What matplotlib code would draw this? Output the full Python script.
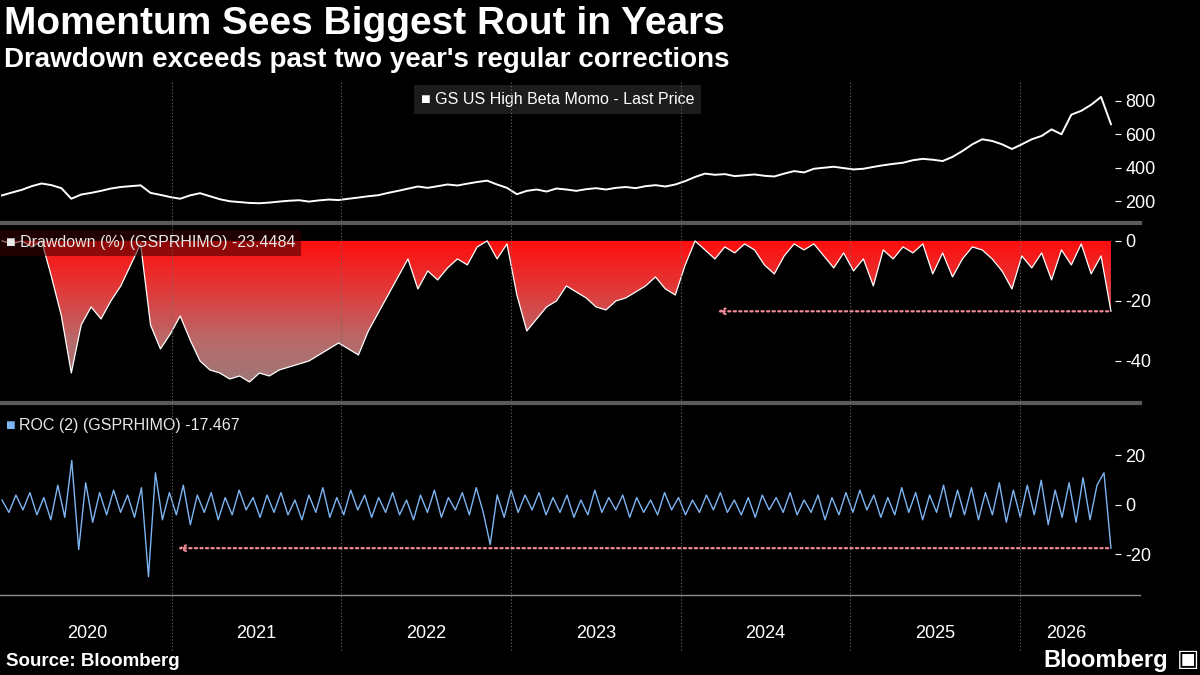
import numpy as np
import matplotlib
matplotlib.use("Agg")
import matplotlib.pyplot as plt
from matplotlib.colors import LinearSegmentedColormap
from matplotlib.lines import Line2D

title = "Momentum Sees Biggest Rout in Years"
subtitle = "Drawdown exceeds past two year's regular corrections"
source = "Source: Bloomberg"
years = ["2020", "2021", "2022", "2023", "2024", "2025", "2026"]
start_year, end_year = 2020.0, 2026.535

price = [235,252,268,290,306,296,278,215,240,250,262,276,285,290,295,250,238,225,215,235,
         248,230,212,200,195,190,188,192,198,203,206,198,205,210,207,215,222,230,236,250,
         262,275,288,280,290,300,294,305,315,323,300,280,242,262,270,258,276,270,262,272,
         278,270,280,285,278,290,296,288,300,320,345,365,358,362,350,355,360,352,348,365,
         380,372,394,400,406,398,390,394,405,415,423,430,445,453,448,440,465,500,540,570,
         560,540,512,540,570,590,629,600,717,740,776,823,660]
drawdown = [0,-1,0,-2,0,-12,-25,-44,-28,-22,-26,-20,-15,-8,-1,-28,-36,-31,-25,-33,
            -40,-43,-44,-46,-45,-47,-44,-45,-43,-42,-41,-40,-38,-36,-34,-36,-38,-30,-24,-18,
            -12,-6,-16,-10,-13,-9,-6,-8,-2,0,-6,-1,-18,-30,-26,-22,-20,-15,-17,-19,
            -22,-23,-20,-19,-17,-15,-12,-16,-18,-8,0,-3,-6,-2,-4,-1,-3,-8,-11,-5,
            -1,-3,-1,-5,-9,-4,-10,-6,-15,-3,-6,-2,-4,-1,-11,-4,-12,-6,-2,-3,
            -6,-10,-16,-5,-9,-4,-13,-3,-8,-1,-11,-5,-23.4484]
roc = [2,-3,4,-2,5,-4,3,-6,8,-5,18,-18,9,-7,5,-4,6,-3,4,-5,
       7,-29,13,-6,5,-4,8,-8,4,-3,5,-6,3,-4,6,-2,3,-5,4,-3,
       5,-4,2,-6,4,-3,7,-5,3,-4,6,-2,4,-5,3,-3,5,-4,2,-6,
       4,-3,6,-5,3,-2,5,-4,7,-3,-16,4,-5,6,-3,4,-2,5,-4,3,
       -3,4,-5,2,-4,6,-3,3,-2,4,-5,3,-3,2,-4,5,-2,3,-4,2,
       -3,4,-2,5,-3,2,-4,3,-5,4,-2,3,-3,5,-4,2,-3,4,-6,3,
       -4,5,-3,6,-2,4,-5,3,-4,7,-3,5,-6,4,-3,8,-5,6,-4,7,
       -6,5,-4,9,-7,6,-5,8,-4,10,-8,6,-5,9,-7,11,-6,8,13,-17.467]
dd_arrow_start = 2024.2
roc_arrow_start = 2021.02

plt.rcParams['font.family'] = ['Liberation Sans', 'DejaVu Sans']
plt.rcParams['axes.unicode_minus'] = False
W, H = 1200, 675
fig = plt.figure(figsize=(12, 6.75), dpi=100, facecolor='black')
x0, x1 = 0 / W, 1115 / W
xlim = (2020.0 - 2 / 170, 2020.0 + 1113 / 170 + 2 / 170)

def mk(top, bot):
    ax = fig.add_axes([x0, 1 - bot / H, x1 - x0, (bot - top) / H], facecolor='black')
    ax.set_xlim(*xlim)
    for s in ax.spines.values():
        s.set_visible(False)
    ax.yaxis.tick_right()
    ax.tick_params(axis='y', colors='white', labelsize=13, length=4, direction='out')
    ax.set_xticks([])
    return ax

# price
ax1 = mk(80, 220)
xp = np.linspace(start_year, end_year, len(price))
ax1.plot(xp, price, color='white', lw=1.4)
ax1.set_ylim(88, 924)
ax1.set_yticks([200, 400, 600, 800])
ax1.text(0.5, 0.86, "\u25A0 GS US High Beta Momo - Last Price", transform=ax1.transAxes,
         ha='center', va='center', color='white', fontsize=11.5,
         bbox=dict(facecolor='#1c1c1c', edgecolor='none', pad=5))

# drawdown
ax2 = mk(228, 400)
xd = np.linspace(start_year, end_year, len(drawdown))
ax2.set_ylim(-53, 4.3)
ax2.set_yticks([0, -20, -40])
poly = ax2.fill_between(xd, drawdown, 0, color='none')
cmap = LinearSegmentedColormap.from_list('g', ['#ff0d0d', '#e03a3a', '#b86a6a', '#9a7a7a'])
grad = np.linspace(0, 1, 256).reshape(-1, 1)
im = ax2.imshow(grad, extent=[xlim[0], xlim[1], -50, 0], aspect='auto', cmap=cmap, origin='upper', zorder=1)
path = poly.get_paths()[0]
im.set_clip_path(path, transform=ax2.transData)
ax2.plot(xd, drawdown, color='white', lw=0.9, zorder=2)
ax2.annotate('', xy=(dd_arrow_start, drawdown[-1]), xytext=(end_year, drawdown[-1]),
             arrowprops=dict(arrowstyle='->', color='#f08a98', lw=1.6, ls=(0, (1, 1.5))), zorder=3)
ax2.text(0.005, 0.915, "\u25A0 Drawdown (%) (GSPRHIMO) -23.4484", transform=ax2.transAxes,
         ha='left', va='center', color='#e8e8e8', fontsize=11.5,
         bbox=dict(facecolor='#3a0000', alpha=0.55, edgecolor='none', pad=4), zorder=4)

# roc
ax3 = mk(407, 595)
xr = np.linspace(start_year, end_year, len(roc))
ax3.plot(xr, roc, color='#7db4f2', lw=1.0)
ax3.set_ylim(-36.4, 39.6)
ax3.set_yticks([20, 0, -20])
ax3.annotate('', xy=(roc_arrow_start, roc[-1]), xytext=(end_year, roc[-1]),
             arrowprops=dict(arrowstyle='->', color='#f08a98', lw=1.6, ls=(0, (1, 1.5))))
ax3.text(0.005, 0.90, "\u25A0", transform=ax3.transAxes, ha='left', va='center',
         color='#7db4f2', fontsize=11.5)
ax3.text(0.017, 0.90, "ROC (2) (GSPRHIMO) -17.467", transform=ax3.transAxes, ha='left',
         va='center', color='#e8e8e8', fontsize=11.5)

# separators and axis line
for yy in (223, 403):
    fig.add_artist(Line2D([0, 1140 / W], [1 - yy / H] * 2, color='#5a5a5a', lw=3))
fig.add_artist(Line2D([0, 1140 / W], [1 - 595 / H] * 2, color='#8a8a8a', lw=1))

def fx(yr):
    return x0 + (yr - xlim[0]) / (xlim[1] - xlim[0]) * (x1 - x0)
for i, lab in enumerate(years):
    yr = 2020 + i
    if i > 0:
        fig.add_artist(Line2D([fx(yr)] * 2, [1 - 650 / H, 1 - 80 / H], color='#6a6a6a',
                              lw=0.8, ls=(0, (1, 2))))
    mid = (yr + 2020 + 1113 / 170) / 2 if i == 6 else yr + 0.5
    fig.text(fx(mid), 1 - 634 / H, lab, ha='center', va='center', color='white', fontsize=13)

fig.text(4 / W, 1 - 24 / H, title, color='white', fontsize=28, fontweight='bold', va='center', ha='left')
fig.text(4 / W, 1 - 60 / H, subtitle, color='white', fontsize=20, fontweight='bold', va='center', ha='left')
fig.text(6 / W, 1 - 662 / H, source, color='white', fontsize=13.5, fontweight='bold', va='center', ha='left')
fig.text(1168 / W, 1 - 660 / H, "Bloomberg", color='white', fontsize=17, fontweight='bold', va='center', ha='right')
fig.text(1188 / W, 1 - 660 / H, "\u25A3", color='white', fontsize=17, va='center', ha='center')

fig.savefig('out.png', dpi=100, facecolor='black')
